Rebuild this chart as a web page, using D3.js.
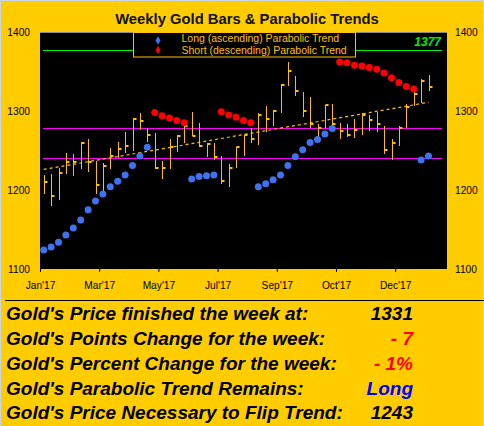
<!DOCTYPE html>
<html><head><meta charset="utf-8">
<script src="https://cdn.jsdelivr.net/npm/d3@7"></script>
<style>html,body{margin:0;padding:0;background:#FFCC00;}svg{display:block;}</style>
</head><body>
<svg id="chart" width="484" height="426"></svg>
<script>
// ---- data ----
const xTickIdx = [0, 8, 16, 24, 32, 40, 48];
const xTickLabels = ["Jan'17","Mar'17","May'17","Jul'17","Sep'17","Oct'17","Dec'17"];
const yTicks = [1100, 1200, 1300, 1400];
const highs = [1219,1220,1228,1247,1246,1261,1265,1237,1234,1253,1261,1273,1291,1298,1279,1272,1237,1265,1269,1282,1299,1285,1259,1260,1243,1233,1255,1270,1279,1297,1306,1301,1334,1362,1344,1324,1318,1284,1307,1309,1285,1284,1290,1298,1295,1299,1281,1264,1281,1309,1328,1341,1346];
const lows = [1195,1180,1187,1220,1218,1227,1223,1195,1197,1227,1241,1247,1249,1276,1261,1226,1214,1227,1248,1259,1268,1254,1242,1238,1207,1204,1228,1243,1260,1257,1273,1281,1298,1332,1319,1292,1279,1264,1278,1277,1264,1267,1266,1270,1275,1274,1245,1238,1256,1278,1306,1310,1325];
const closes = [1210,1192,1222,1235,1236,1259,1235,1206,1230,1243,1252,1256,1290,1287,1270,1228,1228,1255,1268,1281,1268,1256,1258,1242,1212,1228,1255,1270,1265,1295,1290,1300,1333,1351,1325,1300,1283,1279,1307,1283,1275,1270,1276,1295,1289,1284,1251,1259,1279,1305,1321,1338,1331];
const N = null;
const longTrend = [1124,1128,1134,1143,1152,1162,1175,1186,1195,1204,1211,1219,1231,1243,1254,N,N,N,N,N,1214,1217,1218,1219,N,N,N,N,N,1204,1208,1213,1219,1231,1242,1251,1260,1264,1271,1278,N,N,N,N,N,N,N,N,N,N,N,1238,1243];
const shortTrend = [N,N,N,N,N,N,N,N,N,N,N,N,N,N,N,1298,1294,1291,1288,1285,N,N,N,N,1299,1295,1292,1288,1285,N,N,N,N,N,N,N,N,N,N,N,1362,1361,1358,1357,1355,1353,1348,1342,1336,1331,1328,N,N];
const trendIdx = [0, 52];
const trendVals = [1226, 1311];
const greenLevel = 1377;
const magentaLevels = [1279, 1240];
const legendLabels = ["Long (ascending) Parabolic Trend", "Short (descending) Parabolic Trend"];
const statLabels = ["Gold's Price finished the week at:", "Gold's Points Change for the week:", "Gold's Percent Change for the week:", "Gold's Parabolic Trend Remains:", "Gold's Price Necessary to Flip Trend:"];
const statValues = ["1331", "- 7", "- 1%", "Long", "1243"];
const statColors = ["#000000", "#ff0000", "#ff0000", "#0000ff", "#000000"];

// ---- layout ----
const svg = d3.select("#chart");
const W = 484, H = 426;
const L = 40, R = 447, T = 32, B = 269;
const slots = 55;
const x = d3.scaleLinear().domain([0, slots]).range([L, R]);
const xc = i => x(i + 0.5);
const y = d3.scaleLinear().domain([1100, 1400]).range([B, T]);
const snap = v => Math.round(y(v)) + 0.5;
const gold = "#FFCC00", barGold = "#FFC000", blue = "#3F72F0", red = "#FF0000";
const font = "Liberation Sans, Arial, sans-serif";

svg.append("rect").attr("width", W).attr("height", H).attr("fill", gold);
svg.append("rect").attr("x", 0.5).attr("y", 0.5).attr("width", W - 1).attr("height", H + 5)
  .attr("fill", "none").attr("stroke", "#c9d6e6").attr("stroke-width", 1);

// title
svg.append("text").attr("x", 247).attr("y", 24).attr("text-anchor", "middle")
  .attr("font-family", font).attr("font-weight", "bold")
  .attr("font-size", "14.8px").attr("fill", "#111").text("Weekly Gold Bars & Parabolic Trends");

// plot background
svg.append("rect").attr("x", L).attr("y", T).attr("width", R - L).attr("height", B - T).attr("fill", "#000");
svg.append("line").attr("x1", L).attr("x2", R).attr("y1", T + 0.5).attr("y2", T + 0.5).attr("stroke", "#8a8a8a");

// y labels both sides
yTicks.forEach(v => {
  svg.append("text").attr("x", 30).attr("y", y(v) + 3.7).attr("text-anchor", "end")
    .attr("font-family", font).attr("font-size", "10.2px").attr("fill", "#000").text(v);
  svg.append("text").attr("x", 455).attr("y", y(v) + 3.7).attr("text-anchor", "start")
    .attr("font-family", font).attr("font-size", "10.2px").attr("fill", "#000").text(v);
});

// x axis ticks/labels
const xAxis = d3.axisBottom(x).tickValues(xTickIdx).tickSize(3)
  .tickFormat((d, i) => xTickLabels[i]);
const gx = svg.append("g").attr("transform", `translate(0,${B})`).call(xAxis);
gx.select(".domain").remove();
gx.selectAll(".tick line").attr("stroke", "#000");
gx.selectAll(".tick text").attr("font-family", font).attr("font-size", "10.2px").attr("fill", "#000").attr("y", 13).attr("dy", "0.71em");

// horizontal lines
svg.append("line").attr("x1", 43).attr("x2", 442).attr("y1", snap(greenLevel)).attr("y2", snap(greenLevel))
  .attr("stroke", "#00EE00").attr("stroke-width", 1);
magentaLevels.forEach(v => {
  svg.append("line").attr("x1", 43).attr("x2", 442).attr("y1", snap(v)).attr("y2", snap(v))
    .attr("stroke", "#FF00FF").attr("stroke-width", 1);
});
svg.append("text").attr("x", 441).attr("y", 46).attr("text-anchor", "end")
  .attr("font-family", font).attr("font-weight", "bold").attr("font-style", "italic")
  .attr("font-size", "12px").attr("fill", "#00EE00").text(greenLevel);

// trend line (dashed)
const trendLine = d3.line().x(d => xc(d[0])).y(d => y(d[1]));
svg.append("path").datum(trendIdx.map((d, i) => [d, trendVals[i]]))
  .attr("d", trendLine).attr("fill", "none").attr("stroke", barGold).attr("stroke-width", 1.2)
  .attr("stroke-dasharray", "3,3");

// bars
const bars = svg.append("g");
highs.forEach((h, i) => {
  const cx = Math.round(xc(i)) + 0.5;
  bars.append("line").attr("x1", cx).attr("x2", cx).attr("y1", Math.round(y(h))).attr("y2", Math.round(y(lows[i])))
    .attr("stroke", barGold).attr("stroke-width", 1);
  bars.append("rect").attr("x", cx).attr("y", Math.round(y(closes[i])) - 1).attr("width", 3).attr("height", 2)
    .attr("fill", barGold);
});

// parabolic dots
function dots(arr, color) {
  svg.append("g").selectAll("circle")
    .data(arr.map((v, i) => [i, v]).filter(d => d[1] !== null))
    .join("circle").attr("cx", d => xc(d[0])).attr("cy", d => y(d[1])).attr("r", 3.5).attr("fill", color);
}
dots(longTrend, blue);
dots(shortTrend, red);

// legend
const lg = svg.append("g");
lg.append("rect").attr("x", 133.5).attr("y", 32.5).attr("width", 222).attr("height", 24.5)
  .attr("fill", "#000").attr("stroke", barGold).attr("stroke-width", 1);
[blue, red].forEach((c, i) => {
  const yy = 40.5 + i * 9.5;
  lg.append("path").attr("d", d3.symbol(d3.symbolDiamond, 22)()).attr("transform", `translate(158,${yy})`).attr("fill", c);
  lg.append("text").attr("x", 181.5).attr("y", 42.1 + i * 11.8).attr("font-family", font)
    .attr("font-size", "10.5px").attr("fill", barGold).text(legendLabels[i]);
});

// bottom panel
svg.append("line").attr("x1", 5).attr("x2", W).attr("y1", 300.5).attr("y2", 300.5).attr("stroke", "#000").attr("stroke-width", 1);
const baselines = [320, 345, 370, 394.5, 419];
statLabels.forEach((s, i) => {
  svg.append("text").attr("x", 6).attr("y", baselines[i]).attr("font-family", font)
    .attr("font-weight", "bold").attr("font-style", "italic").attr("font-size", "19px").attr("fill", "#000").text(s);
  svg.append("text").attr("x", 413).attr("y", baselines[i]).attr("text-anchor", "end").attr("font-family", font)
    .attr("font-weight", "bold").attr("font-style", "italic").attr("font-size", "19px").attr("fill", statColors[i]).text(statValues[i]);
});
</script>
</body></html>
